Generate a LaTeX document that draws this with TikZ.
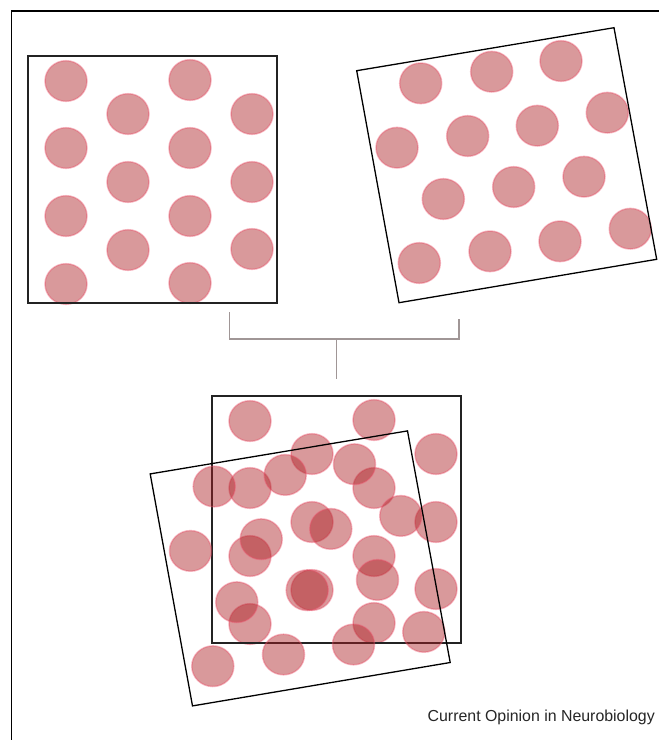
\documentclass[tikz,border=0pt]{standalone}
\usepackage{fontspec}
\setmainfont{Liberation Sans}
\definecolor{circfill}{RGB}{171,31,35}
\definecolor{circedge}{RGB}{235,80,105}
\definecolor{bracketgray}{RGB}{160,150,150}
\definecolor{framegray}{RGB}{35,35,35}
\tikzset{
  blob/.style={fill=circfill, fill opacity=0.45, draw=circedge, draw opacity=0.4, line width=1.5pt},
  boxline/.style={draw=framegray, line width=1.6pt},
  tiltline/.style={draw=black, line width=1.3pt},
  bracketline/.style={draw=bracketgray, line width=1.4pt},
}
\newcommand\patLeft{%
  \foreach \cx/\cy in {66/81,66/148,66/216,66/284,128/114,128/182,128/250,190/80,190/148,190/216,190/283,252/114,252/182,252/249}
    {\path[blob] (\cx,\cy) ellipse [x radius=21pt, y radius=20.3pt];}
  \draw[boxline] (28,56) rectangle (277,303);%
}
\newcommand\patRight{%
  \foreach \cx/\cy in {420.7/83.3,491.7/71.7,561/61,397/147.7,467.7/136,537.3/125.7,607.3/112.7,443.3/199,513.7/187,584/176.7,419.3/263,490/251.3,560/241.3,630.3/228.7}
    {\path[blob] (\cx,\cy) ellipse [x radius=21pt, y radius=20.3pt];}
  \draw[tiltline] (356.7,70.7) -- (614,27.7) -- (656.7,259.3) -- (399,302.7) -- cycle;%
}
\begin{document}
\begin{tikzpicture}[x=1pt,y=-1pt]
\useasboundingbox (0,0) rectangle (659,740);
\fill[white] (0,0) rectangle (659,740);
% outer frame (top and left only)
\draw[line width=1.5pt, black] (662,11) -- (11.5,11) -- (11.5,743);
% top patterns
\patLeft
\patRight
% bracket
\coordinate (bl) at (229.5,312);
\coordinate (br) at (459,319);
\coordinate (bm) at (336.7,379);
\draw[bracketline] (bl) -- (bl |- 0,339) -- (br |- 0,339) -- (br);
\draw[bracketline] (bm |- 0,339) -- (bm);
% bottom overlay
\begin{scope}[shift={(184,340)}]
\patLeft
\end{scope}
\begin{scope}[shift={(-206.5,403.2)}]
\patRight
\end{scope}
\node[anchor=base east, inner sep=0pt, text=black!85, font=\fontsize{15.9}{19}\selectfont] (credit) at (655,721) {Current Opinion in Neurobiology};
\end{tikzpicture}
\end{document}
